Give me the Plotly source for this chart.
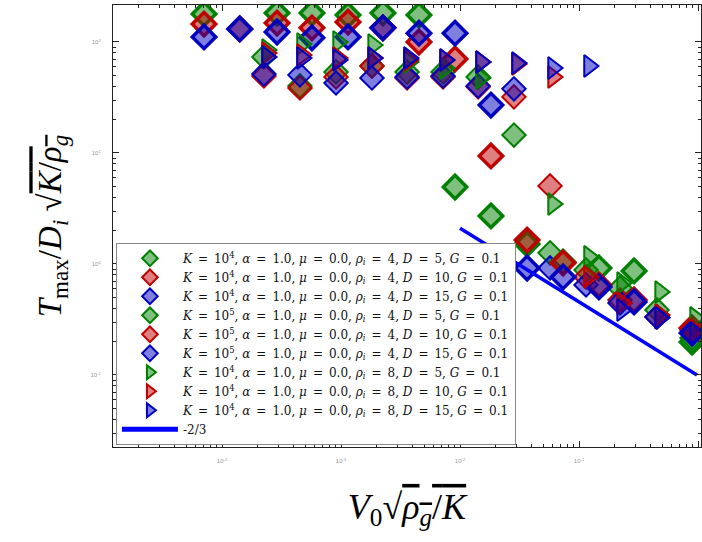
import plotly.graph_objects as go

# ---------------- data ----------------
# K = 1e5 (thick-edged diamonds), rho_i = 4
x_k5 = [7.06e-5, 1.41e-4, 2.90e-4, 5.70e-4, 1.145e-3, 2.25e-3, 4.52e-3, 9.08e-3,
        1.82e-2, 3.66e-2, 7.34e-2, 0.147, 0.290, 0.891]
y_k5_d5 = [179, None, 182, 182, 175, 182, 175, 4.94, 2.71, 1.51, 1.04, 0.92, 0.865, 0.198]
y_k5_d10 = [145, 131, 148, 134, 151, 134, 100, 70.3, 9.40, 1.64, 1.02, 0.648, 0.474, 0.265]
y_k5_d15 = [111, 131, 123, 109, 111, 134, 120, 120, 27.0, 0.92, 0.764, 0.621, 0.455, 0.239]

# K = 1e4 (thin-edged diamonds), rho_i = 4
x_k4 = [2.25e-4, 4.52e-4, 9.08e-4, 1.82e-3, 3.59e-3, 7.2e-3, 1.42e-2, 2.84e-2,
        5.71e-2, 0.1145, 0.221, 0.452, 0.891]
y_k4_d5 = [73.3, 40.2, 53.7, 60.8, 53.7, 53.7, 48.4, 14.5, 1.26, 0.883, 0.608, 0.385, 0.215]
y_k4_d10 = [49.4, 38.5, 48.4, 60.8, 47.4, 48.4, 39.4, 32.0, 5.05, 0.764, 0.474, 0.333, 0.254]
y_k4_d15 = [51.5, 50.5, 42.7, 47.4, 48.4, 49.4, 40.2, 37.8, 0.92, 0.648, 0.446, 0.333, 0.239]

# K = 1e4, rho_i = 8 (triangles)
x_r8 = [2.39e-4, 4.70e-4, 9.44e-4, 1.86e-3, 3.72e-3, 7.48e-3, 1.50e-2, 3.01e-2,
        6.05e-2, 0.1213, 0.230, 0.480, 0.944]
y_r8_d5 = [84.7, 95.9, 100, 94.0, 66.1, 58.3, 47.4, None, 3.47, 1.16, 0.675, 0.560, 0.327]
y_r8_d10 = [79.6, 76.4, 71.8, 71.8, 68.9, 68.9, 66.1, 63.4, 48.4, 0.764, 0.446, 0.347, 0.254]
y_r8_d15 = [73.3, 71.8, 68.9, 71.8, 71.8, 68.9, 66.1, 64.7, 58.3, 60.8, 0.385, 0.327, 0.239]

# -2/3 reference line
x_line = [0.01, 0.98]
y_line = [2.1, 0.1]

x_ticks = [1e-4, 1e-3, 1e-2, 1e-1, 1e0]
x_ticktext = ["10<sup>-4</sup>", "10<sup>-3</sup>", "10<sup>-2</sup>", "10<sup>-1</sup>", "10<sup>0</sup>"]
y_ticks = [1e-1, 1e0, 1e1, 1e2]
y_ticktext = ["10<sup>-1</sup>", "10<sup>0</sup>", "10<sup>1</sup>", "10<sup>2</sup>"]

# ---------------- styling ----------------
GREEN = (0, 128, 0)
RED = (191, 0, 0)
BLUE = (0, 0, 191)


def rgb(c, a=None):
    if a is None:
        return "rgb(%d,%d,%d)" % c
    return "rgba(%d,%d,%d,%.2f)" % (c + (a,))


EQ = "&#8194;=&#8194;"


def label(K, rho, D):
    return ("<i>K</i>" + EQ + "10<sup>%d</sup>, <i>α</i>" + EQ + "1.0, <i>μ</i>" + EQ + "0.0, "
            "<i>ρ<sub>i</sub></i>" + EQ + "%d, <i>D</i>" + EQ + "%d, <i>G</i>" + EQ + "0.1") % (K, rho, D)


series = [
    (x_k4, y_k4_d5, GREEN, "diamond", 2.0, label(4, 4, 5)),
    (x_k4, y_k4_d10, RED, "diamond", 2.0, label(4, 4, 10)),
    (x_k4, y_k4_d15, BLUE, "diamond", 2.0, label(4, 4, 15)),
    (x_k5, y_k5_d5, GREEN, "diamond", 3.5, label(5, 4, 5)),
    (x_k5, y_k5_d10, RED, "diamond", 3.5, label(5, 4, 10)),
    (x_k5, y_k5_d15, BLUE, "diamond", 3.5, label(5, 4, 15)),
    (x_r8, y_r8_d5, GREEN, "triangle-right", 2.0, label(4, 8, 5)),
    (x_r8, y_r8_d10, RED, "triangle-right", 2.0, label(4, 8, 10)),
    (x_r8, y_r8_d15, BLUE, "triangle-right", 2.0, label(4, 8, 15)),
]

fig = go.Figure()
for xs, ys, col, sym, lw, name in series:
    fig.add_trace(go.Scatter(
        x=xs, y=ys, mode="markers", name=name,
        marker=dict(symbol=sym, size=18 if sym == "diamond" else 19,
                    color=rgb(col, 0.5), line=dict(color=rgb(col), width=lw)),
    ))

fig.add_trace(go.Scatter(x=x_line, y=y_line, mode="lines", name="-2/3",
                         line=dict(color="rgb(0,0,255)", width=3.5)))

minor_vals = [m * 10 ** e for e in range(-5, 2) for m in range(2, 10)]

axis_common = dict(
    type="log", showgrid=False, zeroline=False, showline=True,
    linecolor="#222", linewidth=1, mirror="allticks",
    ticks="inside", ticklen=6, tickcolor="#222",
    tickmode="array",
    tickfont=dict(family="Liberation Sans", size=6, color="#999"),
    minor=dict(ticks="inside", ticklen=3, tickcolor="#222",
               tickmode="array", tickvals=minor_vals, showgrid=False),
)

fig.update_layout(
    width=702, height=542,
    margin=dict(l=113, r=1, t=5, b=95),
    paper_bgcolor="white", plot_bgcolor="white",
    font=dict(family="Liberation Serif", color="black"),
    showlegend=True,
    legend=dict(
        x=0.005, y=0.005, xanchor="left", yanchor="bottom",
        bgcolor="white", bordercolor="#888", borderwidth=1,
        font=dict(family="DejaVu Serif", size=12, color="#111"),
        itemwidth=56, itemsizing="constant", tracegroupgap=0,
    ),
    xaxis=dict(
        axis_common, range=[-4.916, 0.025],
        tickvals=x_ticks, ticktext=x_ticktext, ticklabelstandoff=8,
        title=dict(text="<i>V</i><sub>0</sub>√<span style='text-decoration:overline'><i>ρ<sub>g</sub></i>/<i>K</i></span>",
                   font=dict(family="Liberation Serif", size=36), standoff=30),
    ),
    yaxis=dict(
        axis_common, range=[-1.649, 2.333],
        tickvals=y_ticks, ticktext=y_ticktext, ticklabelstandoff=10,
        title=dict(text="<i>T</i><sub>max</sub>/<i>D<sub>i</sub></i> √<span style='text-decoration:overline'><i>K</i>/<i>ρ<sub>g</sub></i></span>",
                   font=dict(family="Liberation Serif", size=33), standoff=18),
    ),
)

fig.write_html("out.html")
